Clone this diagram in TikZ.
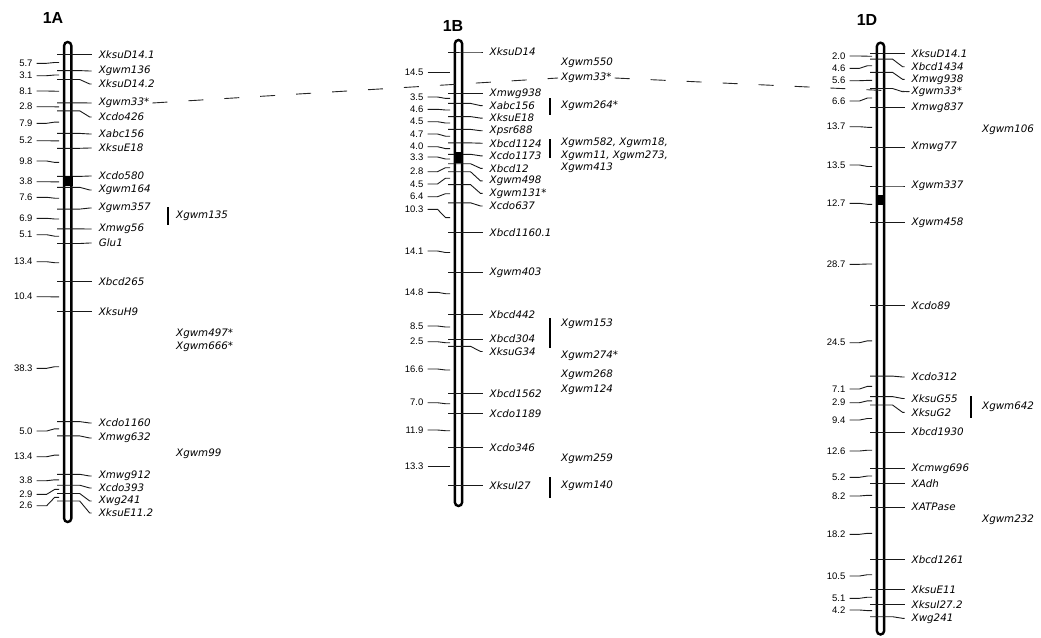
\documentclass[tikz,border=0pt]{standalone}
\usepackage{fontspec}
\setmainfont{Liberation Sans}
\newfontfamily\markerfont{DejaVu Sans}
\usetikzlibrary{positioning}
\tikzset{
  chrom/.style={draw=black,line width=2.4pt,fill=white,rounded corners=3.6pt},
  centro/.style={fill=black},
  mtick/.style={draw=black!90,line width=0.9pt},
  dtick/.style={draw=black!90,line width=0.9pt},
  mname/.style={anchor=west,inner sep=0pt,font=\markerfont\itshape\fontsize{10.3}{11}\selectfont},
  dist/.style={anchor=east,inner sep=0pt,font=\fontsize{9.5}{10}\selectfont},
  qbar/.style={line width=1.8pt},
  chrlabel/.style={font=\bfseries\fontsize{16}{18}\selectfont},
  homeo/.style={draw=black!85,line width=0.9pt,dash pattern=on 15pt off 21pt},
}

\begin{document}
\begin{tikzpicture}[x=1pt,y=-1pt]
  \useasboundingbox (0,0) rectangle (1041,637);

  % ---- chromosome 1A
  \begin{scope}
    \def\cx{67.7}
    \node[chrlabel] (t1A) at (53,18) {1A};
    \draw[chrom] (\cx-3.6,42) rectangle (\cx+3.6,522);
    \foreach \t/\l/\txt [count=\i] in {54.3/54.3/XksuD14.1, 70.6/71/Xgwm136,
        79.5/84/XksuD14.2, 102.8/103/Xgwm33*, 110.8/117/Xcdo426, 133.4/134/Xabc156,
        148.3/148/XksuE18, 176.4/176/Xcdo580, 187.3/190/Xgwm164, 209.1/208/Xgwm357,
        228.9/229/Xmwg56, 243.5/243/Glu1, 281.9/281.9/Xbcd265, 311.8/311.8/XksuH9,
        421.6/423/Xcdo1160, 435.9/438/Xmwg632, 474.3/476/Xmwg912, 485.2/488/Xcdo393,
        493.5/501/Xwg241, 501/513/XksuE11.2}{
      \draw[mtick] (\cx-10.5,\t) -- (\cx+12,\t) -- (\cx+22,\l) -- (\cx+24,\l);
      \node[mname] (A-\i) at (\cx+31,\l) {\txt};
    }
    \foreach \m/\l/\v [count=\i] in {62.5/63.3/5.7, 75/75.7/3.1, 91.2/91/8.1,
        106.8/106.7/2.8, 122.1/123.3/7.9, 140.9/140.7/5.2, 162.4/161/9.8,
        181.9/181.7/3.8, 198.2/197.3/7.6, 219/218.3/6.9, 236.2/234.7/5.1,
        262.7/261.7/13.4, 296.9/296.7/10.4, 366.7/368.3/38.3, 428.8/431/5.0,
        455.1/456.7/13.4, 479.8/480.7/3.8, 489.4/494.3/2.9, 497.3/505.7/2.6}{
      \draw[dtick] (\cx-31,\l) -- (\cx-21,\l) -- (\cx-13,\m) -- (\cx-8.5,\m);
      \node[dist] (A-d\i) at (\cx-35,\l) {\v};
    }
    \fill[centro] (\cx-4.8,175.7) rectangle (\cx+4.8,186);
    % markers mapped on other maps
    \draw[qbar] (168,207) -- (168,225);
    \foreach \y/\txt/\nm in {215.5/Xgwm135/q135, 334/Xgwm497*/q497,
        346.7/Xgwm666*/q666, 453.3/Xgwm99/q99}{
      \node[mname] (A-\nm) at (176,\y) {\txt};
    }
  \end{scope}

  % ---- chromosome 1B
  \begin{scope}
    \def\cx{458.5}
    \node[chrlabel] (t1B) at (453,26) {1B};
    \draw[chrom] (\cx-3.6,40) rectangle (\cx+3.6,506);
    \foreach \t/\l/\txt [count=\i] in {52/52/XksuD14, 93.4/93.4/Xmwg938,
        103.4/105.6/Xabc156, 116.6/118.1/XksuE18, 129.4/130.7/Xpsr688,
        142.9/143.2/Xbcd1124, 154.3/155.8/Xcdo1173, 163.7/168.3/Xbcd12,
        171.7/180.9/Xgwm498, 184.6/193.4/Xgwm131*, 202.8/206/Xcdo637,
        232.3/232.3/Xbcd1160.1, 272.6/272.6/Xgwm403, 314.8/314.8/Xbcd442,
        339.1/339.1/Xbcd304, 346.3/351.5/XksuG34, 393.7/393.7/Xbcd1562,
        413.7/413.7/Xcdo1189, 447.7/447.7/Xcdo346, 485.7/485.7/XksuI27}{
      \draw[mtick] (\cx-10.5,\t) -- (\cx+12,\t) -- (\cx+22,\l) -- (\cx+24,\l);
      \node[mname] (B-\i) at (\cx+31,\l) {\txt};
    }
    \foreach \m/\l/\v [count=\i] in {72.7/72.7/14.5, 98.4/97/3.5, 110/109.3/4.6,
        123/121.7/4.5, 136.2/134/4.7, 148.6/146.7/4.0, 159/157/3.3,
        167.7/171.7/2.8, 178.2/184/4.5, 193.7/196.7/6.4, 217.6/209.3/10.3,
        252.5/251/14.1, 293.7/292.3/14.8, 327/326/8.5, 342.7/341.7/2.5,
        370/369/16.6, 403.7/402.7/7.0, 430.7/430/11.9, 466.7/466.7/13.3}{
      \draw[dtick] (\cx-31,\l) -- (\cx-21,\l) -- (\cx-13,\m) -- (\cx-8.5,\m);
      \node[dist] (B-d\i) at (\cx-35,\l) {\v};
    }
    \fill[centro] (\cx-4.8,151.7) rectangle (\cx+4.8,162.7);
    % markers mapped on other maps
    \draw[qbar] (550,98) -- (550,115);
    \draw[qbar] (550,139) -- (550,158);
    \draw[qbar] (550,318) -- (550,348);
    \draw[qbar] (550,477) -- (550,498);
    \foreach \y/\txt/\nm in {63/Xgwm550/q550, 78/Xgwm33*/q33, 105.5/Xgwm264*/q264,
        143/{Xgwm582, Xgwm18,}/q582, 155.5/{Xgwm11, Xgwm273,}/q11, 168/Xgwm413/q413,
        324/Xgwm153/q153, 356/Xgwm274*/q274, 374.7/Xgwm268/q268,
        389.3/Xgwm124/q124, 459/Xgwm259/q259, 486/Xgwm140/q140}{
      \node[mname] (B-\nm) at (561,\y) {\txt};
    }
  \end{scope}

  % ---- chromosome 1D
  \begin{scope}
    \def\cx{880.5}
    \node[chrlabel] (t1D) at (867,20) {1D};
    \draw[chrom] (\cx-3.6,42.7) rectangle (\cx+3.6,634.5);
    \foreach \t/\l/\txt [count=\i] in {53.3/53.3/XksuD14.1, 59.1/66.7/Xbcd1434,
        72.3/79.3/Xmwg938, 88.5/91.7/Xgwm33*, 107.5/107.5/Xmwg837,
        147.1/147.1/Xmwg77, 186/186/Xgwm337, 222.6/222.6/Xgwm458,
        305.5/305.5/Xcdo89, 376.1/377/Xcdo312, 396.6/398.5/XksuG55,
        405/412.3/XksuG2, 432.1/432.1/Xbcd1930, 468.4/468.4/Xcmwg696,
        483.5/483.5/XAdh, 507.1/507.1/XATPase, 559.6/559.6/Xbcd1261,
        589.9/589.9/XksuE11, 604.6/604.6/XksuI27.2, 616.7/618.3/Xwg241}{
      \draw[mtick] (\cx-10.5,\t) -- (\cx+12,\t) -- (\cx+22,\l) -- (\cx+24,\l);
      \node[mname] (D-\i) at (\cx+31,\l) {\txt};
    }
    \foreach \m/\l/\v [count=\i] in {56.2/56/2.0, 65.7/68.3/4.6, 80.4/80.7/5.6,
        98/101/6.6, 127.3/126.7/13.7, 166.5/165/13.5, 204.3/203.3/12.7,
        264/264.3/28.7, 340.8/342.7/24.5, 386.3/389/7.1, 400.8/402.7/2.9,
        418.5/420/9.4, 450.2/451/12.6, 476/477.3/5.2, 495.3/496/8.2,
        533.3/534.3/18.2, 574.7/576/10.5, 597.2/598.3/5.1, 610.6/610/4.2}{
      \draw[dtick] (\cx-31,\l) -- (\cx-21,\l) -- (\cx-13,\m) -- (\cx-8.5,\m);
      \node[dist] (D-d\i) at (\cx-35,\l) {\v};
    }
    \fill[centro] (\cx-4.8,195) rectangle (\cx+4.8,205);
    % markers mapped on other maps
    \draw[qbar] (971,396) -- (971,418);
    \foreach \y/\txt/\nm in {130/Xgwm106/q106, 406.7/Xgwm642/q642, 519.3/Xgwm232/q232}{
      \node[mname] (D-\nm) at (982,\y) {\txt};
    }
  \end{scope}

  % homeologous Xgwm33 loci
  \draw[homeo] ([xshift=3pt]A-4.east) -- ([xshift=-3pt]B-q33.west);
  \draw[homeo] ([xshift=3pt]B-q33.east) -- ([xshift=-2pt]D-4.west);
\end{tikzpicture}
\end{document}
